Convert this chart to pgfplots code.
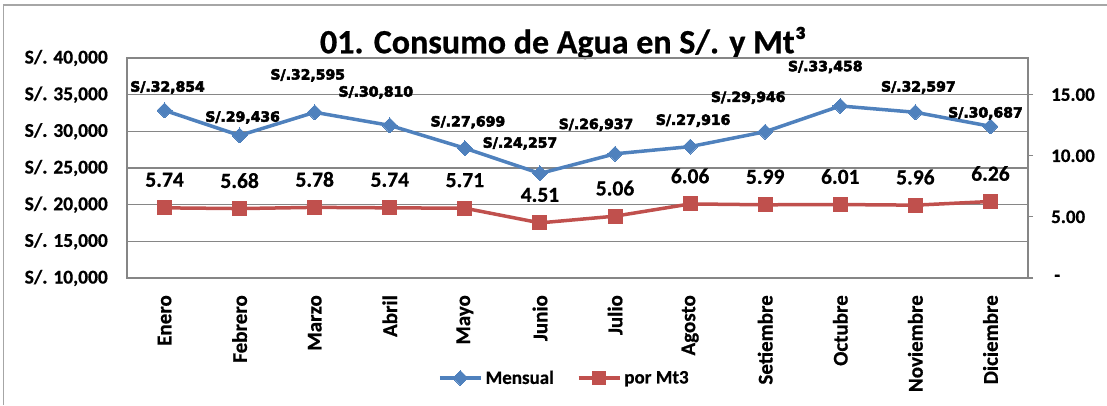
\documentclass[border=0pt]{standalone}
\usepackage{pgfplots}
\pgfplotsset{compat=1.18}
\usepackage{fontspec}
\setmainfont{Carlito}[BoldFeatures={FakeBold=0.6}]
\newfontfamily\djv[FakeBold=4]{DejaVu Sans Bold}
\definecolor{cblue}{HTML}{4F81BD}
\definecolor{cred}{HTML}{C0504D}
\definecolor{gridc}{HTML}{868686}
\definecolor{framec}{HTML}{A6A6A6}
\begin{document}
\begin{tikzpicture}[x=1pt,y=1pt]
\useasboundingbox (0,0) rectangle (1107,405);
\draw[framec, line width=1.5pt] (3.5,0) -- (3.5,400) -- (1107,400);
\node[anchor=base, font=\bfseries\fontsize{34}{40}\selectfont] at (563,351.7) {01. Consumo de Agua en S/. y Mt³};
\begin{axis}[
  at={(127pt,127pt)}, anchor=south west,
  scale only axis, width=901pt, height=220pt,
  xmin=-0.5, xmax=11.5, ymin=10000, ymax=40000,
  scaled y ticks=false,
  clip=false,
  axis line style={gridc, line width=1.2pt},
  ymajorgrids, grid style={gridc, line width=1.2pt},
  major tick length=0pt,
  ytick={10000,15000,20000,25000,30000,35000,40000},
  yticklabels={S/. 10{,}000,S/. 15{,}000,S/. 20{,}000,S/. 25{,}000,S/. 30{,}000,S/. 35{,}000,S/. 40{,}000},
  yticklabel style={font=\bfseries\fontsize{19.5}{22}\selectfont, anchor=east, inner xsep=0pt, inner ysep=0pt, xshift=-19pt},
  xtick={0,...,11},
  xticklabels={Enero,Febrero,Marzo,Abril,Mayo,Junio,Julio,Agosto,Setiembre,Octubre,Noviembre,Diciembre},
  xticklabel style={font=\bfseries\fontsize{21}{24}\selectfont, rotate=90, anchor=east, inner xsep=0pt, inner ysep=0pt, xshift=-17pt},
  legend style={at={(0.486,-0.4545)}, anchor=center, draw=none, fill=none,
    font=\bfseries\fontsize{19}{22}\selectfont, legend columns=2,
    /tikz/every even column/.append style={column sep=20pt},
    inner sep=0pt, nodes={inner xsep=3pt}},
  legend image code/.code={\draw[mark repeat=2,mark phase=2,#1] plot coordinates {(0pt,0pt) (20.5pt,0pt) (41pt,0pt)};},
]
\addplot[cblue, line width=3.5pt, mark=square*, mark size=5.3pt, mark options={rotate=45, line width=0pt, fill=cblue},
  point meta=explicit symbolic,
  visualization depends on={\thisrow{dx} \as \dx},
  visualization depends on={\thisrow{dy} \as \dy},
  nodes near coords,
  nodes near coords style={anchor=center, text=black, font=\djv\fontsize{14}{16}\selectfont, xshift=\dx*1pt, yshift=\dy*1pt},
] table[x=x, y=y, meta=lab] {
x y lab dx dy
0 32854 S/.32,854 3 23
1 29436 S/.29,436 3 18
2 32595 S/.32,595 -7 37
3 30810 S/.30,810 -14 33
4 27699 S/.27,699 3 26
5 24257 S/.24,257 -20 30
6 26937 S/.26,937 -19 29
7 27916 S/.27,916 3 26
8 29946 S/.29,946 -17 34
9 33458 S/.33,458 -15 39
10 32597 S/.32,597 3 25
11 30687 S/.30,687 -5 13
};
\addlegendentry{Mensual}
\addlegendimage{cred, line width=3.5pt, mark=square*, mark size=6.5pt, mark options={line width=0pt, fill=cred}}
\addlegendentry{por Mt3}
\end{axis}
\begin{axis}[
  at={(127pt,127pt)}, anchor=south west,
  scale only axis, width=901pt, height=220pt,
  xmin=-0.5, xmax=11.5, ymin=0, ymax=18,
  clip=false,
  axis x line=none,
  axis y line*=right,
  axis line style={gridc, line width=1.2pt},
  y axis line style={-},
  tick style={gridc, line width=1.2pt},
  tick align=outside, major tick length=5pt,
  ytick={0,5,10,15},
  yticklabels={\,-,5.00,10.00,15.00},
  yticklabel style={font=\bfseries\fontsize{19}{22}\selectfont, anchor=west, inner xsep=0pt, inner ysep=0pt, xshift=18pt},
]
\addplot[cred, line width=3.5pt, mark=square*, mark size=7pt, mark options={line width=0pt, fill=cred},
  point meta=explicit symbolic,
  nodes near coords,
  nodes near coords style={anchor=center, text=black, font=\bfseries\fontsize{21.5}{24}\selectfont, yshift=28pt},
] table[x=x, y=y, meta=lab] {
x y lab
0 5.74 5.74
1 5.68 5.68
2 5.78 5.78
3 5.74 5.74
4 5.71 5.71
5 4.51 4.51
6 5.06 5.06
7 6.06 6.06
8 5.99 5.99
9 6.01 6.01
10 5.96 5.96
11 6.26 6.26
};
\end{axis}
\end{tikzpicture}
\end{document}
